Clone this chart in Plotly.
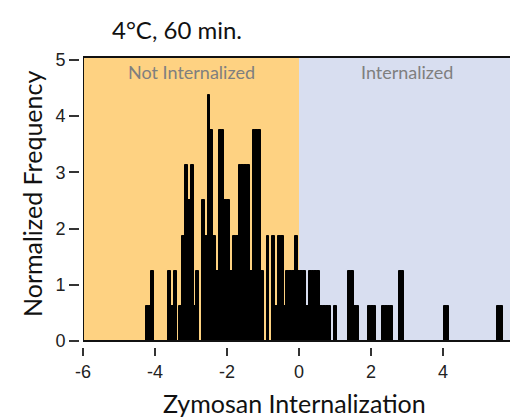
import plotly.graph_objects as go

# Histogram bins (centers on Zymosan Internalization axis) and normalized frequencies
bin_centers = [
    -4.21875, -4.140625, -4.0625,
    -3.59375, -3.515625, -3.4375, -3.28125, -3.203125, -3.125, -3.046875,
    -2.96875, -2.890625, -2.8125, -2.65625, -2.578125, -2.5, -2.421875,
    -2.34375, -2.265625, -2.1875, -2.109375, -2.03125, -1.953125, -1.875,
    -1.796875, -1.71875, -1.640625, -1.5625, -1.484375, -1.40625, -1.328125,
    -1.25, -1.171875, -1.09375, -1.015625, -0.859375, -0.703125, -0.625,
    -0.546875, -0.46875, -0.390625, -0.3125, -0.234375, -0.15625, -0.078125,
    0.0, 0.078125, 0.15625, 0.234375, 0.3125, 0.390625, 0.46875, 0.546875,
    0.625, 0.703125, 0.78125, 0.859375, 1.015625, 1.40625, 1.484375,
    1.5625, 1.640625, 1.953125, 2.03125, 2.109375, 2.34375, 2.421875,
    2.5, 2.578125, 2.8125, 2.890625, 4.0625, 4.140625, 5.546875, 5.625,
]
frequency = [
    0.625, 0.625, 1.25,
    1.25, 0.625, 1.25, 0.625, 1.875, 3.125, 2.5,
    3.125, 0.625, 1.25, 2.5, 1.875, 4.375, 3.75,
    1.875, 1.25, 3.75, 3.75, 2.5, 2.5, 1.25,
    1.875, 1.875, 3.125, 3.125, 3.125, 3.125, 1.25,
    3.75, 3.75, 3.75, 1.25, 1.875, 1.875, 0.625,
    1.875, 1.875, 0.625, 1.25, 1.25, 1.25, 1.875,
    1.25, 1.25, 1.25, 0.625, 1.25, 1.25, 1.25, 1.25,
    0.625, 0.625, 0.625, 0.625, 0.625, 1.25, 1.25,
    0.625, 0.625, 0.625, 0.625, 0.625, 0.625, 0.625,
    0.625, 0.625, 1.25, 1.25, 0.625, 0.625, 0.625, 0.625,
]
bin_width = 0.078125

x_ticks = [-6, -4, -2, 0, 2, 4, 6]
x_tick_labels = ["-6", "-4", "-2", "0", "2", "4", "6"]
y_ticks = [0, 1, 2, 3, 4, 5]
y_tick_labels = ["0", "1", "2", "3", "4", "5"]
regions = ["Not Internalized", "Internalized"]
title_text = "4°C, 60 min."
x_title = "Zymosan Internalization"
y_title = "Normalized Frequency"

# the page body adds an 8px offset, so the figure is 8px smaller and shifted
OFF = 8
W, H = 518 - OFF, 419 - OFF
ML, MR, MT, MB = 79 - OFF, 3, 57 - OFF, 72
pw = W - ML - MR
ph = H - MT - MB

fig = go.Figure()
fig.add_trace(go.Bar(
    x=bin_centers, y=frequency, width=bin_width,
    marker=dict(color="black", line=dict(color="black", width=1)),
    showlegend=False, hoverinfo="x+y",
))

# shaded regions
fig.add_shape(type="rect", xref="x", yref="y domain", x0=-6, x1=0, y0=0, y1=1,
              fillcolor="#FED282", line_width=0, layer="below")
fig.add_shape(type="rect", xref="x", yref="y domain", x0=0, x1=6, y0=0, y1=1,
              fillcolor="#D8DEF0", line_width=0, layer="below")
# frame
fig.add_shape(type="rect", xref="x", yref="y domain", x0=-6, x1=6, y0=0, y1=1,
              fillcolor="rgba(0,0,0,0)", line=dict(color="#111", width=2), layer="above")

for xc, label in zip([-3, 3], regions):
    fig.add_annotation(x=xc, y=4.78, xref="x", yref="y", text=label, showarrow=False,
                       font=dict(family="Lato", size=18, color="#7f7f7f"))


def px_x(v):
    return (v - OFF - ML) / pw


def px_y(v):
    return (H - MB - (v - OFF)) / ph


# axis titles and chart title
fig.add_annotation(x=px_x(294), y=px_y(403), xref="paper", yref="paper",
                   text=x_title, showarrow=False, xanchor="center", yanchor="middle",
                   font=dict(family="Lato", size=25, color="#111"))
fig.add_annotation(x=px_x(32), y=px_y(194), xref="paper", yref="paper",
                   text=y_title, showarrow=False, textangle=-90,
                   xanchor="center", yanchor="middle",
                   font=dict(family="Lato", size=25, color="#111"))
fig.add_annotation(x=px_x(110), y=px_y(29), xref="paper", yref="paper",
                   text=title_text, showarrow=False, xanchor="left", yanchor="middle",
                   font=dict(family="Lato", size=24, color="#111"))

fig.update_layout(
    width=W, height=H,
    margin=dict(l=ML, r=MR, t=MT, b=MB, autoexpand=False),
    paper_bgcolor="white", plot_bgcolor="white",
    xaxis=dict(domain=[(83 - 79) / pw, 1], range=[-6, 6], anchor="free", position=0,
               automargin=False, ticklabeloverflow="allow",
               tickvals=x_ticks, ticktext=x_tick_labels,
               ticks="outside", ticklen=8, tickwidth=2, tickcolor="#333",
               showgrid=False, zeroline=False, showline=False,
               tickfont=dict(family="Liberation Sans", size=18, color="#222")),
    yaxis=dict(domain=[(347 - 341) / ph, 1], range=[0, 5.05], anchor="free", position=0,
               automargin=False, ticklabeloverflow="allow",
               tickvals=y_ticks, ticktext=y_tick_labels,
               ticks="outside", ticklen=10, tickwidth=2, tickcolor="#333",
               showgrid=False, zeroline=False, showline=False,
               tickfont=dict(family="Liberation Sans", size=18, color="#222")),
    bargap=0,
)

fig.write_html("out.html")
